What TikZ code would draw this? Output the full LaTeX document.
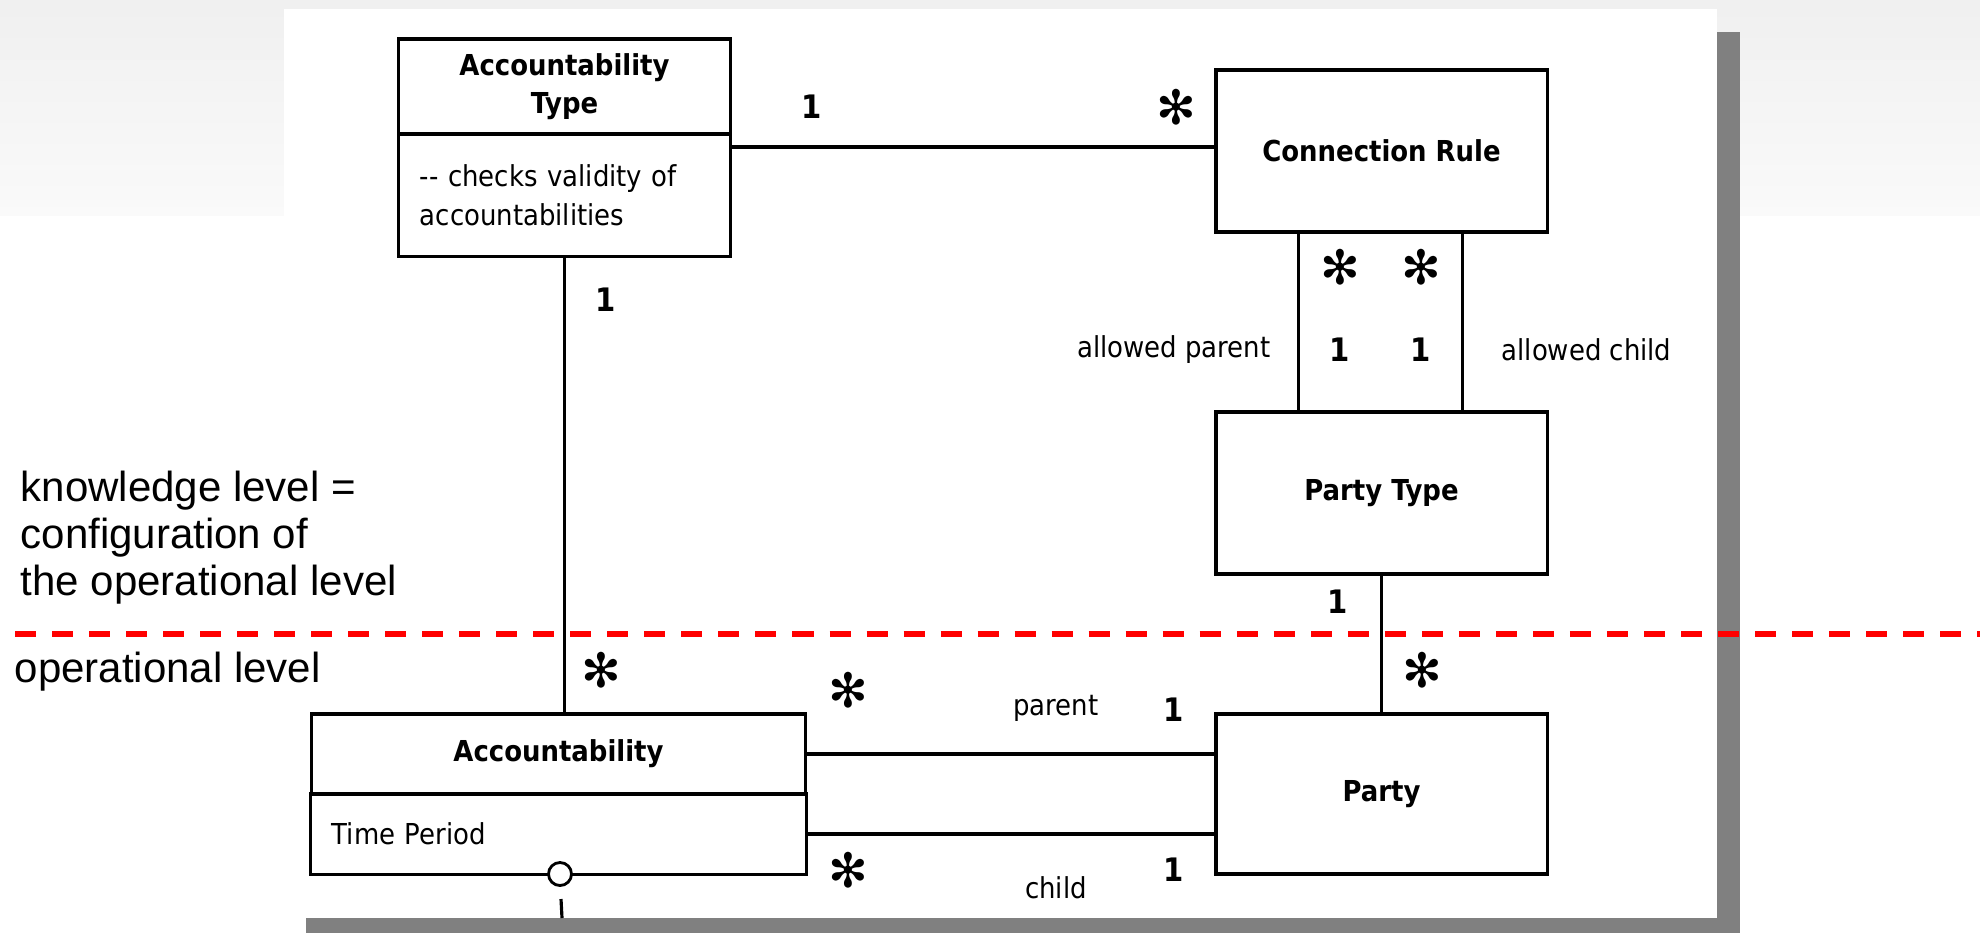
\documentclass[tikz,border=0pt]{standalone}
\usepackage{fontspec}
\usepackage{tikz}
\newfontfamily\umlfont{DejaVu Sans Condensed}
\newfontfamily\notefont{Liberation Sans}
\newfontfamily\starfont{DejaVu Sans}
\newcommand{\many}{{\starfont\mdseries\fontsize{13.5}{13.5}\selectfont ✻}}

\tikzset{
    umlhead/.style={draw, line width=0.9pt, outer sep=0pt, minimum width=3.31cm, inner sep=0pt, align=center,
        font=\umlfont\bfseries\fontsize{8.2}{10.8}\selectfont},
    umlbody/.style={draw, line width=0.9pt, outer sep=0pt, inner xsep=0.21cm, inner ysep=0pt, align=left,
        font=\umlfont\fontsize{8.2}{11.2}\selectfont},
    mult/.style={inner sep=0pt, font=\umlfont\bfseries\fontsize{9.2}{9.2}\selectfont},
    role/.style={inner sep=0pt, font=\umlfont\fontsize{8.2}{9}\selectfont},
    note/.style={inner sep=0pt, align=left, font=\notefont\fontsize{11.95}{13.4}\selectfont},
    assoc/.style={line width=0.9pt},
    leveldash/.style={red, line width=1.5pt, dash pattern=on 0.21cm off 0.16cm}
}

\begin{document}
\begin{tikzpicture}[x=0.01cm, y=-0.01cm]
        \useasboundingbox (0,0) rectangle (1980,933);
        \fill[white] (0,0) rectangle (1980,933);
        \shade[top color=gray!12, bottom color=gray!4] (0,0) rectangle (1980,215);
        \fill[gray] (306,32) rectangle (1740,933);
        \fill[white] (284,9) rectangle (1717,918);

        \node[umlhead, minimum height=0.95cm] (acctype) at (564.5,86.5) {Accountability\\Type};
        \node[umlbody, text width=2.89cm, minimum height=1.22cm, anchor=north] (acctypebody) at (acctype.south) {-{}- checks validity of\\accountabilities};

        \node[umlhead, minimum height=1.62cm] (cr) at (1381.5,151) {Connection Rule};
        \node[umlhead, minimum height=1.62cm] (pt) at (1381.5,493) {Party Type};
        \node[umlhead, minimum height=1.60cm] (party) at (1381.5,794) {Party};

        \node[umlhead, minimum width=4.93cm, minimum height=0.80cm] (acc) at (558.5,754) {Accountability};
        \node[umlbody, text width=4.53cm, minimum height=0.80cm, anchor=north] (accbody) at (acc.south) {Time Period};

        \node[draw, circle, fill=white, line width=0.8pt, minimum size=0.23cm, inner sep=0pt] (agg) at (560,874) {};
        \coordinate (stub) at (561,899);
        \coordinate (cut) at (562,918);

        \coordinate (lvlL) at (15,634);
        \coordinate (lvlR) at (1980,634);

        \node[mult] (m1) at (812,107) {1};
        \node[mult] (m2) at (1176,107) {\many};
        \node[mult] (m3) at (606,300) {1};
        \node[mult] (m4) at (601,670) {\many};
        \node[mult] (m5) at (1340,267) {\many};
        \node[mult] (m6) at (1421,267) {\many};
        \node[mult] (m7) at (1340,350) {1};
        \node[mult] (m8) at (1421,350) {1};
        \node[mult] (m9) at (1338,602) {1};
        \node[mult] (m10) at (1422,670) {\many};
        \node[mult] (m11) at (848,690) {\many};
        \node[mult] (m12) at (1174,710) {1};
        \node[mult] (m13) at (848,870) {\many};
        \node[mult] (m14) at (1174,870) {1};

        \node[role, anchor=east] (rparent) at (1271,350) {allowed parent};
        \node[role, anchor=west] (rchild) at (1501,350) {allowed child};
        \node[role] (parent) at (1056,708) {parent};
        \node[role] (child) at (1056,888) {child};

        \node[note, anchor=north west] (knowledge) at (20,470) {knowledge level =\\configuration of\\the operational level};
        \node[note, anchor=west] (operational) at (14,672) {operational level};

        \draw[assoc] ([yshift=0.04cm]cr.west) -- ([yshift=0.04cm]cr.west -| acctype.east);
        \draw[assoc] (acctypebody.south) -- (acctypebody.south |- acc.north);
        \draw[assoc] ([xshift=-0.83cm]cr.south) -- ([xshift=-0.83cm]pt.north);
        \draw[assoc] ([xshift=0.81cm]cr.south) -- ([xshift=0.81cm]pt.north);
        \draw[assoc] (pt.south) -- (party.north);
        \draw[assoc] (acc.east) -- (acc.east -| party.west);
        \draw[assoc] (accbody.east) -- (accbody.east -| party.west);
        \draw[assoc] (stub) -- (cut);

        \draw[leveldash] (lvlL) -- (lvlR);
    \end{tikzpicture}
\end{document}
